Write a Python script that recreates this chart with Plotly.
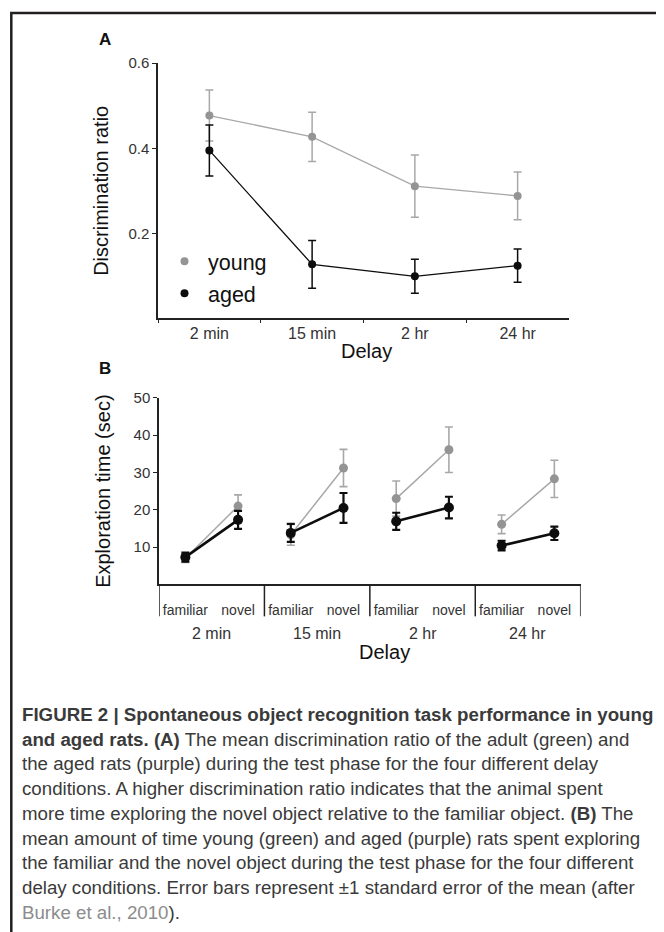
import plotly.graph_objects as go

W, H = 664, 932
OFF_X = 8      # page offset (px) horizontally
OFF_Y = 16     # page offset (px) vertically
EFF_H = 924    # effective drawn height (px)

# ---------------- data ----------------
delays = ["2 min", "15 min", "2 hr", "24 hr"]
objects = ["familiar", "novel"]
groups = ["young", "aged"]

# Panel A: discrimination ratio
young_ratio = [0.477, 0.427, 0.311, 0.288]
young_ratio_err = [0.060, 0.058, 0.073, 0.056]
aged_ratio = [0.395, 0.127, 0.099, 0.124]
aged_ratio_err = [0.060, 0.056, 0.040, 0.039]

# Panel B: exploration time (sec), [familiar, novel] per delay
young_time = [[7.0, 21.0], [13.3, 31.2], [23.0, 36.1], [16.1, 28.3]]
young_time_err = [[1.1, 3.0], [2.8, 5.0], [4.7, 6.1], [2.5, 5.0]]
aged_time = [[7.3, 17.3], [13.8, 20.5], [16.9, 20.6], [10.4, 13.7]]
aged_time_err = [[1.2, 2.4], [2.4, 4.0], [2.3, 2.9], [1.3, 1.8]]

yticks_A = [0.2, 0.4, 0.6]
yticks_B = [10, 20, 30, 40, 50]

caption_lines = [
    "<b>FIGURE 2 | Spontaneous object recognition task performance in young</b>",
    "<b>and aged rats. (A)</b> The mean discrimination ratio of the adult (green) and",
    "the aged rats (purple) during the test phase for the four different delay",
    "conditions. A higher discrimination ratio indicates that the animal spent",
    "more time exploring the novel object relative to the familiar object. <b>(B)</b> The",
    "mean amount of time young (green) and aged (purple) rats spent exploring",
    "the familiar and the novel object during the test phase for the four different",
    "delay conditions. Error bars represent \u00b11 standard error of the mean (after",
    "<span style='color:#8c8c8c'>Burke et al., 2010</span>).",
]

# ---------------- style ----------------
GRAY_LINE = "#a8a8a8"
GRAY_MARK = "#949494"
BLACK = "#0d0d0d"
AX = "#222222"
FONT = "Liberation Sans, Arial, sans-serif"
CAP_FONT = "Liberation Sans Narrow, Arial Narrow, Liberation Sans, sans-serif"


def px_x(v):
    return (v - OFF_X) / W


def px_y(v):
    return 1 - (v - OFF_Y) / EFF_H


fig = go.Figure()

# ---------------- Panel A ----------------
fig.add_trace(go.Scatter(
    x=delays, y=young_ratio, mode="lines+markers", xaxis="x", yaxis="y",
    line=dict(color=GRAY_LINE, width=1.3),
    marker=dict(color=GRAY_MARK, size=8),
    error_y=dict(type="data", array=young_ratio_err, color=GRAY_LINE, thickness=1.5, width=4),
    showlegend=False,
))
fig.add_trace(go.Scatter(
    x=delays, y=aged_ratio, mode="lines+markers", xaxis="x", yaxis="y",
    line=dict(color=BLACK, width=1.3),
    marker=dict(color=BLACK, size=8),
    error_y=dict(type="data", array=aged_ratio_err, color=BLACK, thickness=1.5, width=4),
    showlegend=False,
))
# legend entries (dots only)
for name, col in zip(groups, [GRAY_MARK, BLACK]):
    fig.add_trace(go.Scatter(
        x=[None], y=[None], mode="markers", name=name, legendgroup=name,
        xaxis="x", yaxis="y", marker=dict(color=col, size=8), showlegend=True,
    ))

# ---------------- Panel B ----------------
n_obj = len(objects)
for series, errs, lc, mc, lw, ms, et in [
    (young_time, young_time_err, GRAY_LINE, GRAY_MARK, 1.5, 9, 1.6),
    (aged_time, aged_time_err, BLACK, BLACK, 2.6, 10, 2.2),
]:
    for gi, d in enumerate(delays):
        xs = [gi * n_obj + oi + 0.5 for oi in range(n_obj)]
        fig.add_trace(go.Scatter(
            x=xs, y=series[gi], mode="lines+markers",
            xaxis="x2", yaxis="y2",
            line=dict(color=lc, width=lw),
            marker=dict(color=mc, size=ms),
            error_y=dict(type="data", array=errs[gi], color=lc, thickness=et, width=4),
            showlegend=False, name=f"{d}",
        ))

obj_tickvals = [gi * n_obj + oi + 0.5 for gi in range(len(delays)) for oi in range(n_obj)]
obj_ticktext = [objects[oi] for gi in range(len(delays)) for oi in range(n_obj)]

# ---------------- layout ----------------
ann = []


def add_text(text, x, y, size, color="#111", xref="paper", xa="center", ya="middle", family=FONT):
    ann.append(dict(text=text, x=x, y=y, xref=xref, yref="paper", xanchor=xa, yanchor=ya,
                    showarrow=False, font=dict(size=size, color=color, family=family)))


add_text("<b>A</b>", px_x(105), px_y(39), 17)
add_text("<b>B</b>", px_x(105), px_y(368), 17)
add_text("Delay", px_x(366), px_y(350), 20)
add_text("Delay", px_x(384), px_y(652), 20)
# group labels for panel B
for gi, d in enumerate(delays):
    add_text(d, gi * n_obj + n_obj / 2, px_y(633), 16, color="#333", xref="x2")
# caption
for i, line in enumerate(caption_lines):
    ann.append(dict(text=line, x=px_x(20), y=px_y(714 + i * 24.8), xref="paper", yref="paper",
                    xanchor="left", yanchor="middle", showarrow=False, align="left",
                    font=dict(size=18.7, color="#3a3a3a", family=CAP_FONT)))

shapes = [dict(type="rect", xref="paper", yref="paper",
               x0=px_x(11.3), x1=1.1, y0=-0.1, y1=px_y(12),
               line=dict(color="#231f20", width=2.5))]
# group dividers below panel B axis
for gi in range(len(delays) + 1):
    shapes.append(dict(type="line", xref="x2", yref="paper",
                       x0=gi * n_obj, x1=gi * n_obj, y0=px_y(584), y1=px_y(616),
                       line=dict(color=AX, width=1.5)))

fig.update_layout(
    width=W, height=H,
    margin=dict(l=0, r=0, t=0, b=0),
    paper_bgcolor="white", plot_bgcolor="white",
    font=dict(family=FONT, color="#333"),
    showlegend=True,
    legend=dict(x=px_x(161), y=px_y(240), xanchor="left", yanchor="top",
                font=dict(size=21.5, color="#111", family=FONT),
                bgcolor="rgba(0,0,0,0)", tracegroupgap=1, itemwidth=37),
    annotations=ann,
    shapes=shapes,
    xaxis=dict(
        domain=[px_x(158), px_x(569)], anchor="y", type="category",
        categoryorder="array", categoryarray=delays, range=[-0.5, 3.5],
        tickson="boundaries", ticks="outside", ticklen=3, tickcolor=AX, tickwidth=1.2,
        showline=True, linecolor=AX, linewidth=1.5, showgrid=False, zeroline=False,
        tickfont=dict(size=16, color="#333"),
    ),
    yaxis=dict(
        domain=[px_y(317.7), px_y(62.3)], anchor="x", range=[0, 0.6],
        tickvals=yticks_A, ticktext=[f"{v:.1f}" for v in yticks_A],
        ticks="outside", ticklen=4, tickcolor=AX, tickwidth=1.2,
        showline=True, linecolor=AX, linewidth=1.5, showgrid=False, zeroline=False,
        tickfont=dict(size=15, color="#333"),
        title=dict(text="Discrimination ratio", font=dict(size=20, color="#111"), standoff=14),
    ),
    xaxis2=dict(
        domain=[px_x(159), px_x(580.7)], anchor="y2", range=[0, len(delays) * n_obj],
        tickvals=obj_tickvals, ticktext=obj_ticktext, tickangle=0,
        ticks="outside", ticklen=12, tickcolor="rgba(0,0,0,0)",
        showline=True, linecolor=AX, linewidth=1.5, showgrid=False, zeroline=False,
        tickfont=dict(size=14, color="#333"),
    ),
    yaxis2=dict(
        domain=[px_y(584), px_y(397.3)], anchor="x2", range=[0, 50],
        tickvals=yticks_B, ticks="outside", ticklen=4, tickcolor=AX, tickwidth=1.2,
        showline=True, linecolor=AX, linewidth=1.5, showgrid=False, zeroline=False,
        tickfont=dict(size=15, color="#333"),
        title=dict(text="Exploration time (sec)", font=dict(size=20, color="#111"), standoff=18),
    ),
)

fig.write_html("out.html")
